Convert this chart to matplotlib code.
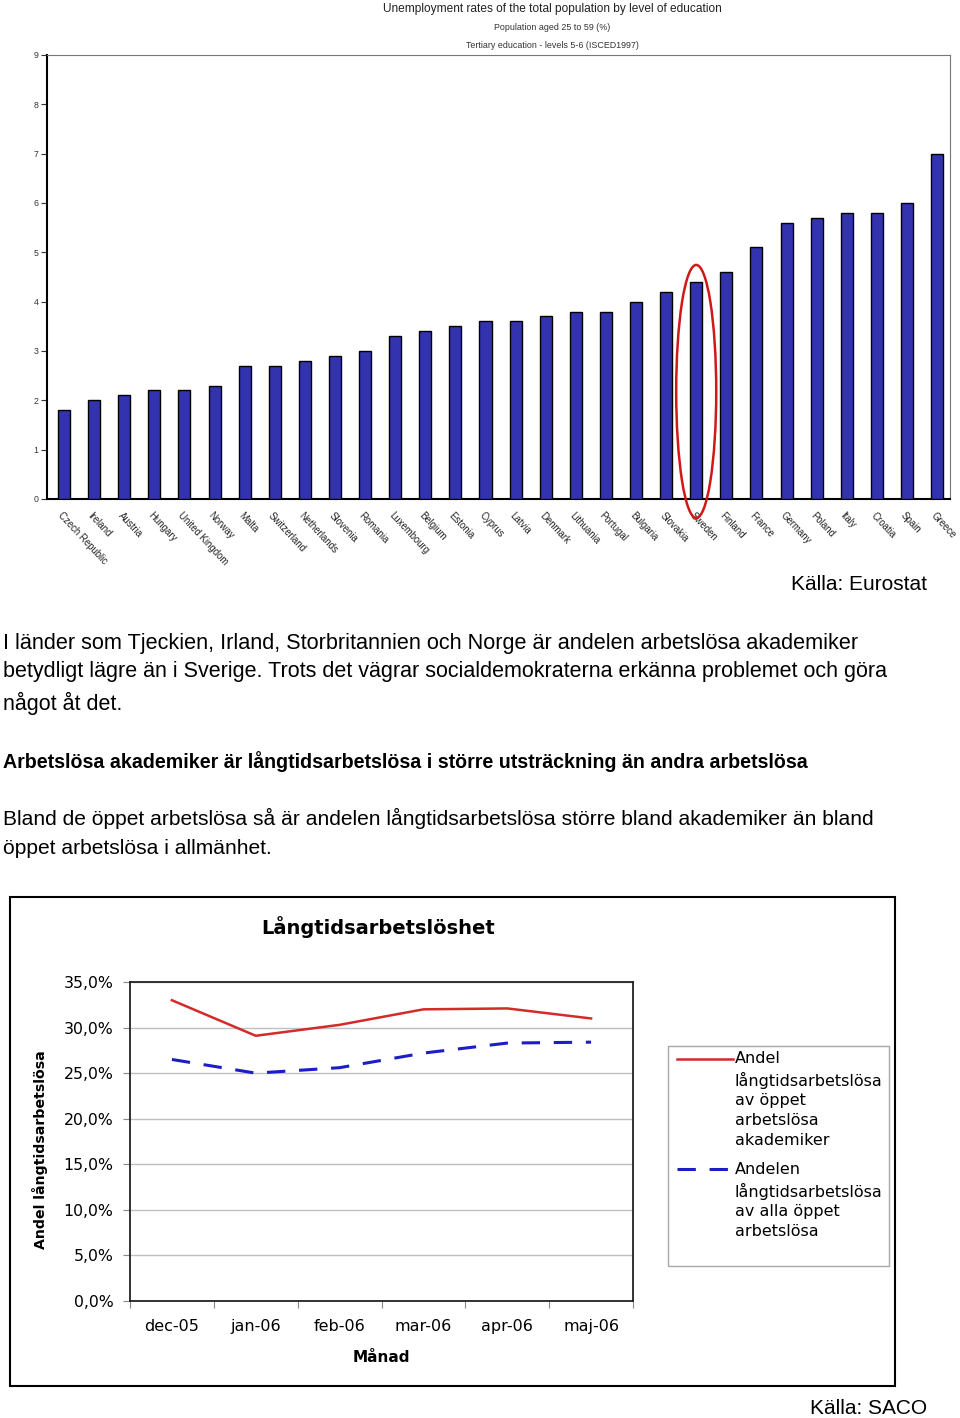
import matplotlib
matplotlib.use("Agg")
import matplotlib.pyplot as plt
from matplotlib.patches import Ellipse, Rectangle
from matplotlib.lines import Line2D
import numpy as np

# ---------------- data ----------------
countries = ["Czech Republic", "Ireland", "Austria", "Hungary", "United Kingdom", "Norway",
             "Malta", "Switzerland", "Netherlands", "Slovenia", "Romania", "Luxembourg",
             "Belgium", "Estonia", "Cyprus", "Latvia", "Denmark", "Lithuania", "Portugal",
             "Bulgaria", "Slovakia", "Sweden", "Finland", "France", "Germany", "Poland",
             "Italy", "Croatia", "Spain", "Greece"]
unemployment = [1.8, 2.0, 2.1, 2.2, 2.2, 2.3, 2.7, 2.7, 2.8, 2.9, 3.0, 3.3, 3.4, 3.5, 3.6,
                3.6, 3.7, 3.8, 3.8, 4.0, 4.2, 4.4, 4.6, 5.1, 5.6, 5.7, 5.8, 5.8, 6.0, 7.0]
bar_yticks = [0, 1, 2, 3, 4, 5, 6, 7, 8, 9]

months = ["dec-05", "jan-06", "feb-06", "mar-06", "apr-06", "maj-06"]
akademiker = [33.0, 29.1, 30.3, 32.0, 32.1, 31.0]
alla = [26.5, 25.0, 25.6, 27.2, 28.3, 28.4]
line_yticks = [0, 5, 10, 15, 20, 25, 30, 35]
legend_labels = ["Andel\nlångtidsarbetslösa\nav öppet\narbetslösa\nakademiker",
                 "Andelen\nlångtidsarbetslösa\nav alla öppet\narbetslösa"]

W, H = 960, 1418
def fx(px): return px / W
def fy(py): return 1 - py / H

fig = plt.figure(figsize=(9.6, 14.18), dpi=100)
fig.patch.set_facecolor("white")

SANS = ["Liberation Sans", "DejaVu Sans"]

# ---------------- bar chart ----------------
ax1 = fig.add_axes([fx(47), fy(499), fx(950) - fx(47), fy(55) - fy(499)])
x = np.arange(len(countries))
ax1.bar(x, unemployment, width=0.4, color="#3333B0", edgecolor="black", linewidth=1.0, zorder=3)
ax1.set_xlim(-0.565, len(countries) - 1 + 0.43)
ax1.set_ylim(0, 9)
ax1.set_yticks(bar_yticks)
ax1.set_yticklabels([str(t) for t in bar_yticks], family=SANS, fontsize=6.3, color="#333333")
ax1.tick_params(axis="y", length=4, width=0.8, pad=2, color="#333333")
ax1.set_xticks([])
for sp in ["top", "right"]:
    ax1.spines[sp].set_color("#777777")
    ax1.spines[sp].set_linewidth(0.8)
for sp in ["left", "bottom"]:
    ax1.spines[sp].set_color("black")
    ax1.spines[sp].set_linewidth(1.5)
for i, c in enumerate(countries):
    ax1.text(i - 0.15, -0.3, c, rotation=-47, rotation_mode="anchor", ha="left", va="center",
             fontsize=6.9, family=SANS, color="#222222", clip_on=False)
si = countries.index("Sweden")
ell = Ellipse((si, 2.18), width=1.33, height=5.13, fill=False, edgecolor="#D01818",
              linewidth=1.8, clip_on=False, zorder=5)
ax1.add_patch(ell)

fig.text(fx(552), fy(9), "Unemployment rates of the total population by level of education",
         ha="center", va="center", fontsize=8.6, family=SANS, color="#222222")
fig.text(fx(552), fy(28), "Population aged 25 to 59 (%)", ha="center", va="center",
         fontsize=6.4, family=SANS, color="#333333")
fig.text(fx(552), fy(45), "Tertiary education - levels 5-6 (ISCED1997)", ha="center", va="center",
         fontsize=6.4, family=SANS, color="#333333")

# ---------------- text block ----------------
fig.text(fx(927), fy(584), "Källa: Eurostat", ha="right", va="center", fontsize=15, family=SANS)
para = [
    (643, "I länder som Tjeckien, Irland, Storbritannien och Norge är andelen arbetslösa akademiker", "normal", 15.6),
    (671, "betydligt lägre än i Sverige. Trots det vägrar socialdemokraterna erkänna problemet och göra", "normal", 15.5),
    (703, "något åt det.", "normal", 15.5),
    (762, "Arbetslösa akademiker är långtidsarbetslösa i större utsträckning än andra arbetslösa", "bold", 14.1),
    (818, "Bland de öppet arbetslösa så är andelen långtidsarbetslösa större bland akademiker än bland", "normal", 15.1),
    (849, "öppet arbetslösa i allmänhet.", "normal", 15.1),
]
for py, s, w, fs in para:
    fig.text(fx(3), fy(py), s, ha="left", va="center", fontsize=fs, family=SANS, weight=w)
fig.text(fx(927), fy(1408), "Källa: SACO", ha="right", va="center", fontsize=15, family=SANS)

# ---------------- line chart ----------------
fig.add_artist(Rectangle((fx(10), fy(1386)), fx(895) - fx(10), fy(897) - fy(1386),
                         transform=fig.transFigure, fill=False, edgecolor="black", linewidth=1.5))
ax2 = fig.add_axes([fx(130), fy(1301), fx(633) - fx(130), fy(982) - fy(1301)])
xm = np.arange(len(months))
ax2.plot(xm, akademiker, color="#D42A2A", linewidth=1.8, zorder=3)
ax2.plot(xm, alla, color="#1C1CC8", linewidth=2.2, dashes=(6, 4.5), zorder=3)
ax2.set_xlim(-0.5, len(months) - 0.5)
ax2.set_ylim(0, 35)
ax2.set_yticks(line_yticks)
ax2.set_yticklabels([f"{t:.1f}%".replace(".", ",") for t in line_yticks], family="DejaVu Sans", fontsize=11.3)
ax2.yaxis.grid(True, color="#C0C0C0", linewidth=1.0)
ax2.set_axisbelow(True)
ax2.tick_params(axis="y", length=5, width=0.8, color="#888888", pad=7)
ax2.set_xticks(xm)
ax2.set_xticklabels(months, family="DejaVu Sans", fontsize=11.5)
ax2.set_xticks(np.arange(-0.5, len(months)), minor=True)
ax2.tick_params(axis="x", which="major", length=0, pad=13)
ax2.tick_params(axis="x", which="minor", length=5, width=0.8, color="#888888")
for sp in ax2.spines.values():
    sp.set_color("#222222")
    sp.set_linewidth(1.3)

fig.text(fx(378), fy(927), "Långtidsarbetslöshet", ha="center", va="center", fontsize=14,
         family="DejaVu Sans", weight="bold")
fig.text(fx(381), fy(1357), "Månad", ha="center", va="center", fontsize=11,
         family="DejaVu Sans", weight="bold")
fig.text(fx(40), fy(1150), "Andel långtidsarbetslösa", ha="center", va="center", rotation=90,
         fontsize=10.2, family="DejaVu Sans", weight="bold")

# legend (drawn as box, handles and text)
fig.add_artist(Rectangle((fx(668), fy(1266)), fx(889) - fx(668), fy(1046) - fy(1266),
                         transform=fig.transFigure, fill=False, edgecolor="#A8A8A8", linewidth=1.0))
fig.add_artist(Line2D([fx(677), fx(733)], [fy(1059), fy(1059)], transform=fig.transFigure,
                      color="#D42A2A", linewidth=1.8))
fig.add_artist(Line2D([fx(677), fx(733)], [fy(1169), fy(1169)], transform=fig.transFigure,
                      color="#1C1CC8", linewidth=2.2, dashes=(6, 4.5)))
for py, lab in zip([1058, 1169], legend_labels):
    fig.text(fx(735), fy(py - 7), lab, ha="left", va="top", fontsize=11.5, family="DejaVu Sans",
             linespacing=1.4)

fig.savefig("out.png", dpi=100, facecolor="white")
